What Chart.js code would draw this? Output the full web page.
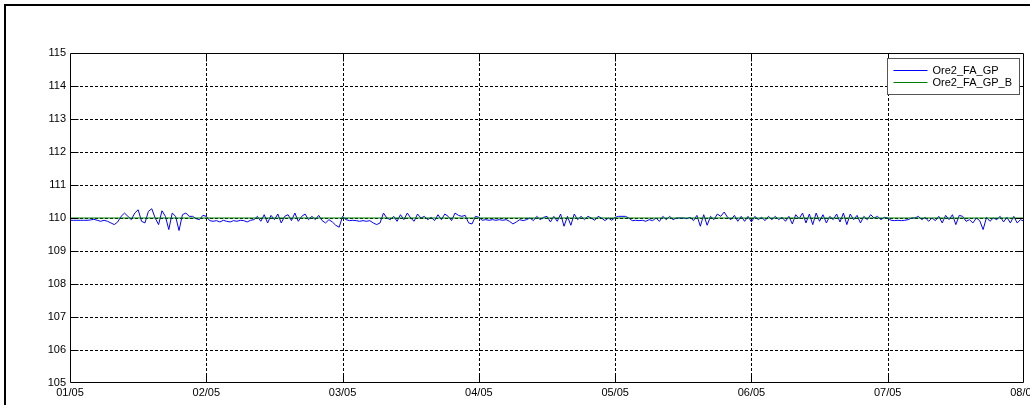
<!DOCTYPE html>
<html><head><meta charset="utf-8">
<script src="https://cdn.jsdelivr.net/npm/chart.js@4/dist/chart.umd.min.js"></script>
<style>
html,body{margin:0;padding:0;background:#fff;overflow:hidden;width:1030px;height:405px;}
#frame{position:absolute;left:4px;top:4px;width:1100px;height:500px;border-top:2px solid #000;border-left:2px solid #000;box-sizing:border-box;}
#wrap{position:absolute;left:0;top:0;width:1060px;height:405px;}
</style></head><body>
<div id="frame"></div>
<div id="wrap"><canvas id="c" width="1060" height="405"></canvas></div>
<script>
// Tick labels
const dayLabels = ['01/05','02/05','03/05','04/05','05/05','06/05','07/05','08/05'];
const yTicks = [105,106,107,108,109,110,111,112,113,114,115];
const seriesNames = ['Ore2_FA_GP','Ore2_FA_GP_B'];
const samplesPerDay = 40;

// Ore2_FA_GP readings, one array per day (40 samples each)
const day1 = [109.93,109.93,109.93,109.93,109.93,109.93,109.94,109.96,109.93,109.90,
              109.93,109.90,109.85,109.80,109.88,110.05,110.15,110.05,109.95,110.15,
              110.25,109.90,109.85,110.20,110.28,110.00,109.80,110.22,110.05,109.65,
              110.15,110.05,109.62,110.10,110.15,110.05,110.05,109.98,109.95,110.08];
const day2 = [110.05,109.92,109.90,109.92,109.88,109.93,109.90,109.88,109.92,109.90,
              109.93,109.92,109.88,109.93,109.95,110.05,109.90,110.10,109.85,110.08,
              109.95,110.12,109.85,110.05,110.10,109.92,110.15,109.90,110.05,110.12,
              109.95,110.05,109.95,110.08,109.92,109.85,109.95,109.88,109.78,109.72];
const day3 = [110.05,109.95,109.92,109.93,109.92,109.90,109.92,109.90,109.92,109.85,
              109.80,109.85,110.15,110.00,109.95,110.05,109.90,110.10,109.95,110.15,
              110.00,109.90,110.12,110.00,110.05,109.95,110.02,109.92,110.10,109.95,
              110.12,110.05,109.92,110.15,110.08,110.05,110.08,109.85,109.82,110.05];
const day4 = [110.02,109.93,109.95,109.93,109.95,109.93,109.95,109.93,109.95,109.90,
              109.82,109.88,109.95,109.92,109.95,110.00,109.92,110.05,109.95,110.02,
              110.05,109.88,110.05,109.90,110.12,109.75,110.05,109.78,110.12,109.95,
              110.05,109.95,110.05,110.00,109.93,110.05,110.00,109.92,110.00,109.93];
const day5 = [110.02,110.05,110.05,110.05,110.00,109.92,109.93,109.92,109.93,109.90,
              109.95,109.92,110.00,109.90,110.05,109.95,110.05,109.95,110.00,110.00,
              110.00,109.98,110.02,109.92,110.08,109.75,110.10,109.78,110.05,109.95,
              110.12,110.05,110.18,110.02,109.95,110.08,109.90,110.05,109.90,110.05];
const day6 = [109.88,110.05,109.95,110.02,109.92,110.05,109.95,110.05,109.95,110.02,
              109.90,110.05,109.82,110.10,109.98,110.15,109.85,110.12,109.80,110.15,
              109.90,110.10,109.85,110.05,109.95,110.12,109.88,110.15,109.80,110.12,
              109.95,110.08,109.85,110.05,109.95,110.10,110.00,110.05,109.95,110.02];
const day7 = [110.00,109.93,109.92,109.93,109.92,109.93,109.95,110.00,110.00,110.05,
              109.95,110.02,109.90,110.00,109.92,110.05,109.85,110.08,109.95,110.10,
              109.80,110.08,110.05,109.90,109.95,109.85,110.00,109.92,109.65,110.02,
              109.90,110.00,109.95,110.05,109.88,110.02,109.85,110.05,109.85,109.95];
const lastSample = [109.90];
const gpValues = [].concat(day1, day2, day3, day4, day5, day6, day7, lastSample);

// Ore2_FA_GP_B reference (flat setpoint), start and end of period
const gpBDays = [0, 7];
const gpBValues = [110, 110];

const gpData = gpValues.map((v, i) => ({x: i / samplesPerDay, y: v}));
const gpBData = gpBValues.map((v, i) => ({x: gpBDays[i], y: v}));

const FONT = {family: '"Liberation Sans", Arial, sans-serif', size: 11};

const boxPlugin = {
  id: 'matlabBox',
  beforeDatasetsDraw(chart) {
    const {ctx, chartArea: a, scales: {x, y}} = chart;
    ctx.save();
    ctx.strokeStyle = '#000';
    ctx.lineWidth = 1;
    ctx.setLineDash([3, 2]);
    ctx.beginPath();
    for (let d = 1; d < dayLabels.length - 1; d++) {
      const px = Math.round(x.getPixelForValue(d)) + 0.5;
      ctx.moveTo(px, a.top); ctx.lineTo(px, a.bottom);
    }
    for (let k = 1; k < yTicks.length - 1; k++) {
      const py = Math.round(y.getPixelForValue(yTicks[k])) + 0.5;
      ctx.moveTo(a.left, py); ctx.lineTo(a.right, py);
    }
    ctx.stroke();
    ctx.restore();
  },
  afterDatasetsDraw(chart) {
    const {ctx, chartArea: a, scales: {x, y}} = chart;
    ctx.save();
    ctx.strokeStyle = '#000';
    ctx.lineWidth = 1;
    ctx.setLineDash([]);
    const L = Math.round(a.left) + 0.5, R = Math.round(a.right) - 0.5;
    const T = Math.round(a.top) + 0.5, B = Math.round(a.bottom) - 0.5;
    ctx.beginPath();
    ctx.rect(L, T, R - L, B - T);
    const tl = 8;
    for (let d = 1; d < dayLabels.length - 1; d++) {
      const px = Math.round(x.getPixelForValue(d)) + 0.5;
      ctx.moveTo(px, B); ctx.lineTo(px, B - tl);
      ctx.moveTo(px, T); ctx.lineTo(px, T + tl);
    }
    for (let k = 1; k < yTicks.length - 1; k++) {
      const py = Math.round(y.getPixelForValue(yTicks[k])) + 0.5;
      ctx.moveTo(L, py); ctx.lineTo(L + tl, py);
      ctx.moveTo(R, py); ctx.lineTo(R - tl, py);
    }
    ctx.stroke();

    // legend
    const lw = 132, lh = 36;
    const lx = Math.round(a.right) - 137 + 0.5, ly = Math.round(a.top) + 5 + 0.5;
    ctx.fillStyle = '#fff';
    ctx.fillRect(lx, ly, lw, lh);
    ctx.strokeStyle = '#555';
    ctx.strokeRect(lx, ly, lw, lh);
    ctx.font = FONT.size + 'px ' + FONT.family;
    ctx.textBaseline = 'middle';
    chart.data.datasets.forEach((ds, i) => {
      const yy = Math.round(ly + 11 + i * 12) + 0.5;
      ctx.strokeStyle = ds.borderColor;
      ctx.beginPath();
      ctx.moveTo(lx + 6, yy); ctx.lineTo(lx + 40, yy);
      ctx.stroke();
      ctx.fillStyle = '#000';
      ctx.fillText(ds.label, lx + 45, yy);
    });
    ctx.restore();
  }
};

new Chart(document.getElementById('c'), {
  type: 'line',
  data: {
    datasets: [
      {label: seriesNames[0], data: gpData, borderColor: '#0000ff', borderWidth: 1, pointRadius: 0, tension: 0, order: 1},
      {label: seriesNames[1], data: gpBData, borderColor: '#008000', borderWidth: 1, pointRadius: 0, tension: 0, order: 0}
    ]
  },
  options: {
    responsive: false,
    animation: false,
    devicePixelRatio: 1,
    layout: {padding: {left: 0, top: 53, right: 36, bottom: 0}},
    plugins: {legend: {display: false}, tooltip: {enabled: false}},
    scales: {
      x: {
        type: 'linear', min: 0, max: dayLabels.length - 1,
        grid: {display: false, drawTicks: false}, border: {display: false},
        afterFit(s) { s.height = 22; },
        afterBuildTicks(s) { s.ticks = dayLabels.map((_, i) => ({value: i})); },
        ticks: {
          autoSkip: false, maxRotation: 0, padding: 3, color: '#000', font: FONT,
          callback: (v) => dayLabels[v]
        }
      },
      y: {
        type: 'linear', min: yTicks[0], max: yTicks[yTicks.length - 1],
        grid: {display: false, drawTicks: false}, border: {display: false},
        afterFit(s) { s.width = 70; },
        afterBuildTicks(s) { s.ticks = yTicks.map(v => ({value: v})); },
        ticks: {padding: 4, color: '#000', font: FONT, callback: (v) => String(v)}
      }
    }
  },
  plugins: [boxPlugin]
});
</script>
</body></html>
